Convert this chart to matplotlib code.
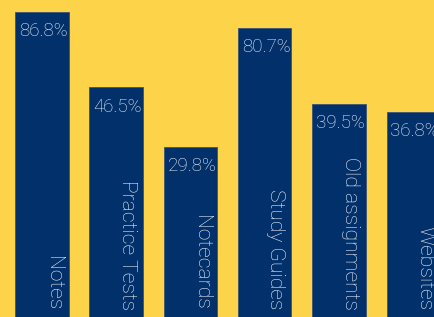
import matplotlib
matplotlib.use("Agg")
import matplotlib.pyplot as plt
import numpy as np

plt.rcParams['font.family'] = ['Roboto', 'DejaVu Sans']

categories = ["Notes", "Practice Tests", "Notecards", "Study Guides",
              "Old assignments", "Websites"]
# bar heights as drawn, and the printed labels
bar_heights = [86.8, 49.0, 19.3, 78.8, 40.7, 36.8]
pct_labels = ["86.8%", "46.5%", "29.8%", "80.7%", "39.5%", "36.8%"]

bg = "#FDD34A"
navy = "#02306B"
txt = "#EEF0F5"

fig = plt.figure(figsize=(4.34, 3.17), dpi=100, facecolor=bg)
ax = fig.add_axes([0, 0, 1, 1])
ax.set_facecolor(bg)

x = np.arange(len(categories))
bottom = -80
ax.bar(x, np.array(bar_heights) - bottom, bottom=bottom, width=0.72,
       color=navy, edgecolor="#3B5378", linewidth=0.6)

for xi, h, lab in zip(x, bar_heights, pct_labels):
    ax.annotate(lab, (xi, h), xytext=(1, -13.8), textcoords="offset points",
                ha="center", va="center", color=txt, fontsize=13.5,
                fontweight="light")

for xi, name in zip(x, categories):
    ax.annotate(name, (xi, -62.5), xytext=(8, 0), textcoords="offset points",
                ha="center", va="bottom", rotation=270, color=txt,
                fontsize=15.2, fontweight="light")

ax.set_xlim(-0.564, 5.279)
ax.set_ylim(-66.1, 92.8)
ax.axis("off")

fig.savefig("out.png", dpi=100, facecolor=bg)
